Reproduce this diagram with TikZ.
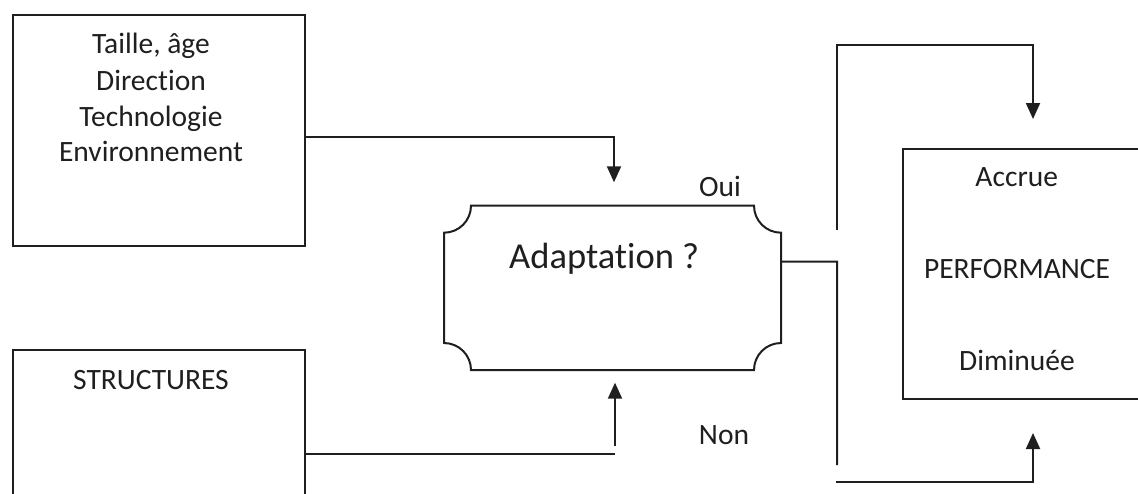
\documentclass[tikz,border=0pt]{standalone}
\usepackage{fontspec}
\setmainfont{Carlito}[Ligatures=NoCommon,RawFeature={-liga;-clig;-dlig}]
\usetikzlibrary{arrows.meta,calc}
\begin{document}
\begin{tikzpicture}[x=1pt,y=-1pt,
  boxst/.style={draw=black!88, line width=2pt, inner sep=0pt},
  lbl/.style={font=\fontsize{29.5}{34}\selectfont, inner sep=0pt, text=black!88, anchor=base},
  biglbl/.style={font=\fontsize{36.5}{42}\selectfont, inner sep=0pt, text=black!88, anchor=base},
  conn/.style={draw=black!88, line width=2pt},
  arr/.style={conn, -{Triangle[length=16pt,width=14pt]}}]
\useasboundingbox (0,0) rectangle (1138,493);
\fill[white] (0,0) rectangle (1138,493);
\begin{scope}
\clip (0,0) rectangle (1138,493);
% boxes
\node[boxst, minimum width=292.3pt, minimum height=230.7pt] (factors) at (158.85,130.35) {};
\node[boxst, minimum width=292.3pt, minimum height=170pt] (struct) at (158.85,435) {};
\node[boxst, minimum width=247pt, minimum height=249.7pt] (perf) at (1026.5,274.15) {};
\node[inner sep=0pt, minimum width=337pt, minimum height=164.3pt] (adapt) at (612.5,287.85) {};
% adaptation shape with concave corners
\draw[conn] (471,205.7) -- (754,205.7)
  .. controls (754,220.6) and (766.1,232.7) .. (781,232.7)
  -- (781,343)
  .. controls (766.1,343) and (754,355.1) .. (754,370)
  -- (471,370)
  .. controls (471,355.1) and (458.9,343) .. (444,343)
  -- (444,232.7)
  .. controls (458.9,232.7) and (471,220.6) .. cycle;
% texts
\node[lbl] (t1) at (151,53.3) {Taille, âge};
\node[lbl] (t2) at (151,90) {Direction};
\node[lbl] (t3) at (151,126) {Technologie};
\node[lbl] (t4) at (151,161.7) {Environnement};
\node[lbl] (t5) at (151,389.3) {STRUCTURES};
\node[biglbl] (t6) at (604.2,268.3) {Adaptation ?};
\node[lbl] (oui) at (720,196) {Oui};
\node[lbl] (non) at (724,444) {Non};
\node[lbl] (acc) at (1016.7,186.7) {Accrue};
\node[lbl] (pf) at (1017,278.3) {PERFORMANCE};
\node[lbl] (dim) at (1017,370) {Diminuée};
% connectors
\coordinate (tipA) at (614,182.3);
\draw[arr] ([yshift=-6.35pt]factors.east) -| (tipA);
\coordinate (c2) at (615,454);
\coordinate (c2b) at (615,446);
\coordinate (tipB) at (615,382.7);
\draw[conn] ([yshift=-19pt]struct.east) -- (c2);
\draw[arr] (c2b) -- (tipB);
\coordinate (r1) at (837,261.7);
\coordinate (r2) at (837,465);
\draw[conn] ([yshift=26.15pt]adapt.east) -- (r1) -- (r2);
\coordinate (u0) at (837,230);
\coordinate (u1) at (1033,45);
\coordinate (tipC) at (1033,119);
\draw[arr] (u0) |- (u1) -- (tipC);
\coordinate (d0) at (836,482);
\coordinate (tipD) at (1033,433);
\draw[arr] (d0) -| (tipD);
\end{scope}
\end{tikzpicture}
\end{document}
